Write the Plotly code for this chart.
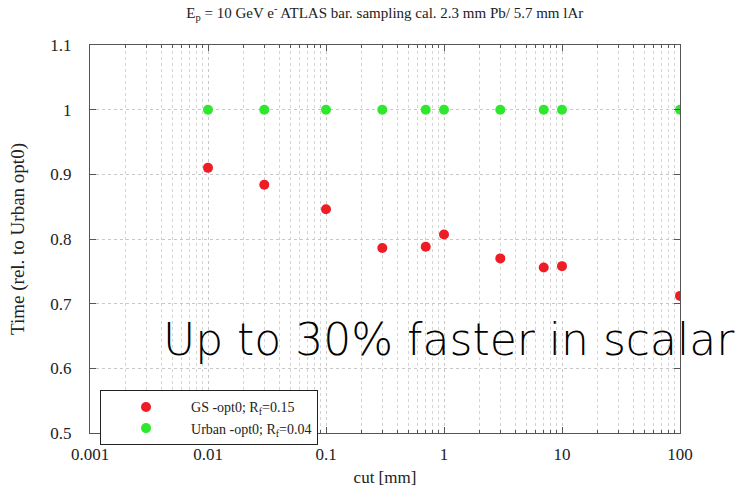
import plotly.graph_objects as go

# cut values [mm] and relative timing
cut_mm = [0.01, 0.03, 0.1, 0.3, 0.7, 1, 3, 7, 10, 100]
gs_time = [0.910, 0.884, 0.846, 0.786, 0.788, 0.807, 0.770, 0.756, 0.758, 0.712]
urban_time = [1.0, 1.0, 1.0, 1.0, 1.0, 1.0, 1.0, 1.0, 1.0, 1.0]

gs_name = "GS -opt0; R<sub>f</sub>=0.15"
urban_name = "Urban -opt0; R<sub>f</sub>=0.04"

x_ticks = [0.001, 0.01, 0.1, 1, 10, 100]
x_tick_text = ["0.001", "0.01", "0.1", "1", "10", "100"]
x_minor = [m * 10 ** e for e in range(-3, 2) for m in range(2, 10)]
y_ticks = [0.5, 0.6, 0.7, 0.8, 0.9, 1.0, 1.1]
y_tick_text = ["0.5", "0.6", "0.7", "0.8", "0.9", "1", "1.1"]

serif = "Liberation Serif, Times New Roman, serif"

fig = go.Figure()
fig.add_trace(go.Scatter(x=cut_mm, y=gs_time, mode="markers", name=gs_name,
                         marker=dict(color="#ee1c24", size=10, line=dict(width=0))))
fig.add_trace(go.Scatter(x=cut_mm, y=urban_time, mode="markers", name=urban_name,
                         marker=dict(color="#2ee82e", size=10, line=dict(width=0))))

axis_common = dict(showline=True, linecolor="#555555", linewidth=1, mirror="allticks",
                   ticks="inside", tickcolor="#555555", ticklen=6, automargin=False,
                   showgrid=True, gridcolor="#c8c8c8", griddash="dot", gridwidth=1,
                   zeroline=False, tickfont=dict(family=serif, size=17, color="#222222"))

fig.update_xaxes(type="log", range=[-3, 2], tickvals=x_ticks, ticktext=x_tick_text,
                 ticklabelstandoff=6,
                 minor=dict(tickvals=x_minor, ticks="inside", ticklen=3, tickcolor="#555555",
                            showgrid=True, gridcolor="#d4d4d4", griddash="dot"),
                 title=dict(text="cut [mm]", font=dict(family=serif, size=17, color="#222222"),
                            standoff=12),
                 **axis_common)
fig.update_yaxes(range=[0.5, 1.1], tickvals=y_ticks, ticktext=y_tick_text,
                 ticklabelstandoff=14,
                 title=dict(text="Time (rel. to Urban opt0)",
                            font=dict(family=serif, size=19, color="#222222"), standoff=20),
                 **axis_common)

fig.update_layout(
    width=740, height=487,
    margin=dict(l=90, r=60, t=45, b=54, autoexpand=False),
    paper_bgcolor="white", plot_bgcolor="white",
    title=dict(text="E<sub>p</sub> = 10 GeV e<sup>-</sup> ATLAS bar. sampling cal. 2.3 mm Pb/ 5.7 mm lAr",
               x=0.52, xanchor="center", y=0.985, yanchor="top",
               font=dict(family=serif, size=15, color="#222222")),
    legend=dict(x=0.017, y=0.11, xanchor="left", yanchor="top",
                bordercolor="#222222", borderwidth=1, bgcolor="white",
                font=dict(family=serif, size=14, color="#222222"),
                itemwidth=80, tracegroupgap=0),
    annotations=[dict(text="Up to 30% faster in scalar", xref="paper", yref="paper",
                      x=0.12, y=0.24, xanchor="left", yanchor="middle", showarrow=False,
                      font=dict(family="DejaVu Sans, sans-serif", size=44, color="black",
                                weight=200))],
)

fig.write_html("out.html")
